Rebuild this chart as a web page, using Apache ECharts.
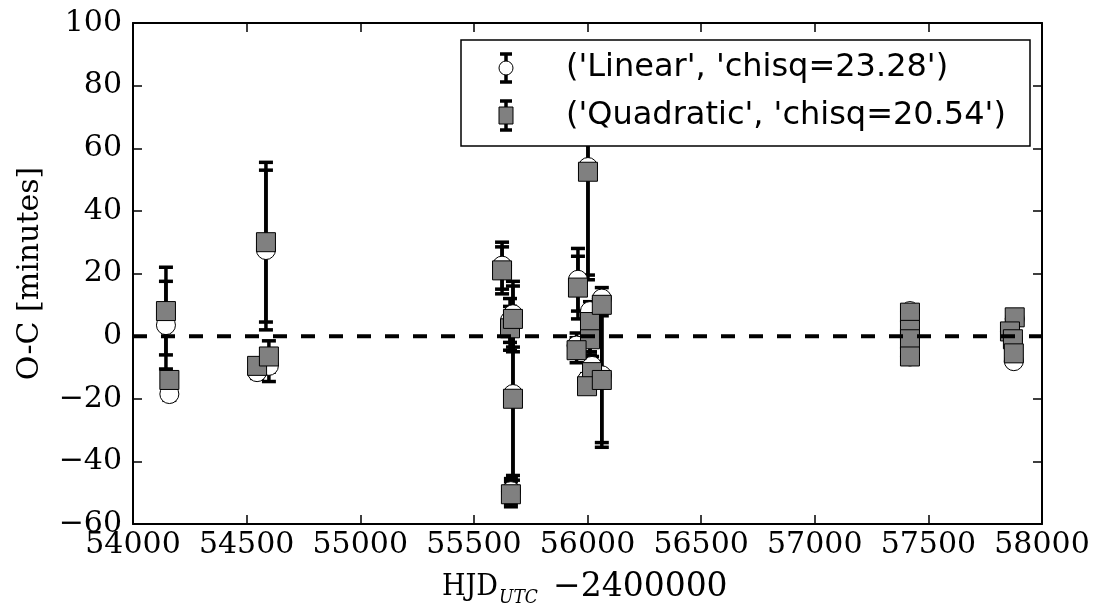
<!DOCTYPE html>
<html>
<head>
<meta charset="utf-8">
<script src="https://cdn.jsdelivr.net/npm/echarts@6/dist/echarts.min.js"></script>
<style>html,body{margin:0;padding:0;background:#fff;}#c{width:1103px;height:608px;}</style>
</head>
<body>
<div id="c"></div>
<script>
// ---- data ----
const hjd    = [54145, 54160, 54585, 54546, 54598, 55624, 55659, 55672, 55672, 55663,
                55958, 56002, 56011, 56011, 55952, 56020, 55998, 56063, 56063,
                57419, 57419, 57419, 57419, 57880, 57859, 57872, 57876];
const linOC  = [3.5, -18.5, 27.5, -11.5, -9.5, 22.5, 5, 7, -18.5, -49.5,
                18, 54, 8, 0, -3, -9.5, -14, 12, -12.5,
                8, 2, -1, -6.5, 5.5, 1.5, -1, -8];
const quadOC = [8, -14, 30, -9.5, -6.5, 21, 2.5, 5.5, -20, -50.5,
                15.5, 52.5, 4.5, -1, -4.5, -11.5, -16, 10, -14,
                7.5, 2, -1, -6.5, 6, 1.5, -1, -5.5];
const ocErr  = [14, 2, 25.5, 2, 5, 7.5, 7, 10.5, 26, 4,
                10, 34.5, 3, 5, 4, 3, 2, 3.5, 21.5,
                1.5, 1.5, 1.5, 1.5, 1.5, 1.5, 1.5, 1.5];
const zeroLine = [[54000, 0], [58000, 0]];
const legendLabels = ["('Linear', 'chisq=23.28')", "('Quadratic', 'chisq=20.54')"];
const xTitleParts = ['HJD', 'UTC', '\u22122400000'];
const yTitle = 'O-C [minutes]';
const xTicks = {min: 54000, max: 58000, interval: 500};
const yTicks = {min: -60, max: 100, interval: 20};

const linData  = hjd.map((x, i) => [x, linOC[i], ocErr[i]]);
const quadData = hjd.map((x, i) => [x, quadOC[i], ocErr[i]]);

function errRender(params, api) {
  const x = api.value(0), y = api.value(1), e = api.value(2);
  const t = api.coord([x, y + e]), b = api.coord([x, y - e]);
  const hw = 7, st = {stroke: '#000', lineWidth: 3.5};
  return {type: 'group', children: [
    {type: 'line', shape: {x1: t[0], y1: t[1], x2: b[0], y2: b[1]}, style: st},
    {type: 'line', shape: {x1: t[0] - hw, y1: t[1], x2: t[0] + hw, y2: t[1]}, style: st},
    {type: 'line', shape: {x1: b[0] - hw, y1: b[1], x2: b[0] + hw, y2: b[1]}, style: st}
  ]};
}

const serif = '"DejaVu Serif", serif';
const axisLineStyle = {color: '#000', width: 2};
const tickStyle = {show: true, inside: true, length: 9, lineStyle: {color: '#000', width: 1.5}};

const chart = echarts.init(document.getElementById('c'), null, {renderer: 'canvas'});
chart.setOption({
  animation: false,
  backgroundColor: '#fff',
  grid: {left: 133, right: 61, top: 23, bottom: 84, containLabel: false, outerBoundsMode: 'none'},
  xAxis: [{
    type: 'value', min: xTicks.min, max: xTicks.max, interval: xTicks.interval,
    position: 'bottom',
    axisLine: {show: true, onZero: false, lineStyle: axisLineStyle},
    axisTick: tickStyle, splitLine: {show: false},
    axisLabel: {color: '#000', fontFamily: serif, fontSize: 30, margin: 6, formatter: v => String(v)}
  }, {
    type: 'value', min: xTicks.min, max: xTicks.max, interval: xTicks.interval,
    position: 'top',
    axisLine: {show: true, onZero: false, lineStyle: axisLineStyle},
    axisTick: tickStyle, splitLine: {show: false}, axisLabel: {show: false}
  }],
  yAxis: [{
    type: 'value', min: yTicks.min, max: yTicks.max, interval: yTicks.interval,
    position: 'left',
    axisLine: {show: true, onZero: false, lineStyle: axisLineStyle},
    axisTick: tickStyle, splitLine: {show: false},
    axisLabel: {color: '#000', fontFamily: serif, fontSize: 30, margin: 11,
      formatter: v => String(v).replace('-', '\u2212')},
    name: yTitle, nameLocation: 'middle', nameGap: 88, nameRotate: 90,
    nameTextStyle: {color: '#000', fontFamily: serif, fontSize: 30}
  }, {
    type: 'value', min: yTicks.min, max: yTicks.max, interval: yTicks.interval,
    position: 'right',
    axisLine: {show: true, onZero: false, lineStyle: axisLineStyle},
    axisTick: tickStyle, splitLine: {show: false}, axisLabel: {show: false}
  }],
  series: [
    {type: 'custom', name: 'linErr', renderItem: errRender, data: linData, z: 1, clip: true,
     encode: {x: 0, y: 1}},
    {type: 'custom', name: 'quadErr', renderItem: errRender, data: quadData, z: 1, clip: true,
     encode: {x: 0, y: 1}},
    {type: 'scatter', name: legendLabels[0], data: linData, symbol: 'circle', symbolSize: 19, z: 2,
     itemStyle: {color: '#fff', borderColor: '#000', borderWidth: 1, opacity: 1}},
    {type: 'scatter', name: legendLabels[1], data: quadData, symbol: 'rect', symbolSize: 19, z: 3,
     itemStyle: {color: '#808080', borderColor: '#000', borderWidth: 1, opacity: 1}},
    {type: 'line', name: 'zero', data: zeroLine, showSymbol: false, symbol: 'none', z: 4,
     lineStyle: {color: '#000', width: 4, type: [14, 14]}}
  ],
  graphic: [
    // x-axis title with subscript
    {type: 'text', z: 50, style: {x: 442, y: 587, text: xTitleParts[0], font: '30px "DejaVu Serif Condensed", "DejaVu Serif", serif', fill: '#000', verticalAlign: 'middle'}},
    {type: 'text', z: 50, style: {x: 499, y: 598, text: xTitleParts[1], font: 'italic 19px "DejaVu Serif Condensed", "DejaVu Serif", serif', fill: '#000', verticalAlign: 'middle'}},
    {type: 'text', z: 50, style: {x: 553, y: 587, text: xTitleParts[2], font: '33px "DejaVu Serif", serif', fill: '#000', verticalAlign: 'middle'}},
    // legend
    {type: 'rect', z: 100, shape: {x: 461, y: 40, width: 569, height: 106},
     style: {fill: '#fff', stroke: '#000', lineWidth: 1.5}},
    {type: 'line', z: 101, shape: {x1: 506, y1: 54, x2: 506, y2: 82}, style: {stroke: '#000', lineWidth: 3.5}},
    {type: 'line', z: 101, shape: {x1: 500, y1: 54, x2: 512, y2: 54}, style: {stroke: '#000', lineWidth: 3.5}},
    {type: 'line', z: 101, shape: {x1: 500, y1: 82, x2: 512, y2: 82}, style: {stroke: '#000', lineWidth: 3.5}},
    {type: 'circle', z: 102, shape: {cx: 506, cy: 68, r: 7}, style: {fill: '#fff', stroke: '#000', lineWidth: 1}},
    {type: 'text', z: 102, style: {x: 566, y: 68, text: legendLabels[0], font: '32px "DejaVu Sans"', fill: '#000', verticalAlign: 'middle'}},
    {type: 'line', z: 101, shape: {x1: 506, y1: 101, x2: 506, y2: 130}, style: {stroke: '#000', lineWidth: 3.5}},
    {type: 'line', z: 101, shape: {x1: 500, y1: 101, x2: 512, y2: 101}, style: {stroke: '#000', lineWidth: 3.5}},
    {type: 'line', z: 101, shape: {x1: 500, y1: 130, x2: 512, y2: 130}, style: {stroke: '#000', lineWidth: 3.5}},
    {type: 'rect', z: 102, shape: {x: 499, y: 107, width: 14, height: 17}, style: {fill: '#808080', stroke: '#000', lineWidth: 1}},
    {type: 'text', z: 102, style: {x: 566, y: 115.5, text: legendLabels[1], font: '32px "DejaVu Sans"', fill: '#000', verticalAlign: 'middle'}}
  ]
});
</script>
</body>
</html>
